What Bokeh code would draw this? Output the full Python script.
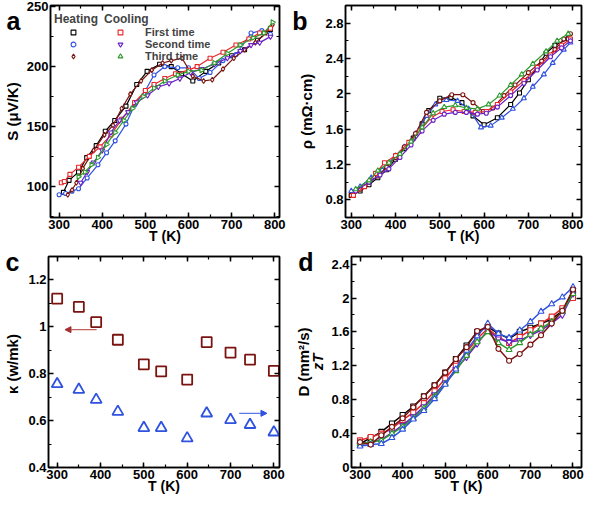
from bokeh.plotting import figure
from bokeh.layouts import column, row
from bokeh.models import (LinearAxis, Range1d, Legend, LegendItem, Arrow,
                          NormalHead, SingleIntervalTicker, FixedTicker)
from bokeh.embed import file_html
from bokeh.resources import INLINE

FONT = "Liberation Sans"
BLACK = "#000000"
BLUE = "#2f52e0"
DRED = "#7a1410"
RED = "#e8262a"
PURPLE = "#6a22c8"
GREEN = "#2c9a2c"

# ---------------- panel a : Seebeck coefficient ----------------
a_h1_T = [310, 323, 345, 364, 386, 407, 429, 455, 480, 504, 533, 560, 584, 610, 640, 670, 700, 730, 760, 790]
a_h1_S = [95, 105, 112, 124, 134, 146, 155, 167, 185, 196, 202, 200, 194, 188, 196, 203, 209, 214, 222, 231]
a_h2_T = [300, 315, 330, 345, 365, 390, 410, 430, 455, 475, 500, 520, 545, 575, 600, 625, 650, 680, 710, 745, 770, 790]
a_h2_S = [93, 94, 96, 98, 107, 118, 128, 138, 152, 168, 180, 193, 200, 199, 199, 190, 195, 205, 210, 228, 230, 227]
a_h3_T = [320, 330, 340, 355, 380, 405, 425, 445, 465, 490, 515, 540, 560, 585, 610, 635, 655, 680, 705, 730, 755, 780, 795]
a_h3_S = [93, 97, 103, 115, 130, 143, 151, 165, 177, 188, 197, 203, 205, 207, 192, 188, 189, 198, 207, 214, 220, 228, 235]
a_c1_T = [305, 312, 325, 345, 370, 395, 420, 445, 475, 500, 520, 545, 570, 600, 620, 650, 680, 710, 740, 765, 790]
a_c1_S = [103, 104, 110, 116, 125, 133, 143, 156, 170, 180, 185, 190, 194, 197, 200, 207, 212, 218, 223, 228, 232]
a_c2_T = [350, 365, 380, 400, 420, 440, 460, 480, 505, 530, 555, 580, 605, 630, 660, 690, 720, 745, 765, 790]
a_c2_S = [103, 112, 120, 130, 145, 155, 162, 170, 176, 183, 186, 190, 195, 198, 202, 207, 213, 218, 220, 225]
a_c3_T = [345, 360, 375, 390, 410, 430, 450, 470, 495, 520, 545, 575, 600, 630, 660, 690, 720, 750, 775, 795]
a_c3_S = [108, 112, 118, 124, 135, 145, 155, 165, 175, 182, 188, 193, 196, 197, 203, 211, 218, 224, 228, 237]

# ---------------- panel b : resistivity ----------------
b_h1_T = [300, 320, 340, 360, 380, 400, 420, 440, 460, 475, 500, 525, 550, 575, 600, 630, 660, 680, 700, 720, 740, 760, 790]
b_h1_R = [0.85, 0.90, 0.97, 1.05, 1.14, 1.26, 1.38, 1.50, 1.66, 1.81, 1.95, 1.96, 1.90, 1.75, 1.65, 1.73, 1.88, 2.01, 2.16, 2.30, 2.46, 2.55, 2.62]
b_h2_T = [300, 320, 345, 370, 400, 420, 445, 470, 490, 515, 540, 565, 593, 615, 640, 665, 690, 710, 735, 755, 780, 795]
b_h2_R = [0.90, 0.95, 1.05, 1.14, 1.30, 1.40, 1.55, 1.75, 1.88, 1.93, 1.92, 1.83, 1.62, 1.64, 1.73, 1.83, 1.95, 2.08, 2.22, 2.35, 2.50, 2.58]
b_h3_T = [300, 320, 340, 360, 380, 400, 420, 445, 470, 500, 527, 552, 575, 598, 620, 645, 670, 700, 730, 760, 780, 795]
b_h3_R = [0.85, 0.92, 1.00, 1.07, 1.17, 1.28, 1.40, 1.55, 1.79, 1.92, 1.99, 1.99, 1.90, 1.80, 1.84, 1.98, 2.10, 2.24, 2.37, 2.50, 2.62, 2.68]
b_c1_T = [305, 330, 355, 375, 400, 430, 455, 480, 505, 530, 555, 580, 605, 630, 660, 690, 720, 750, 775, 795]
b_c1_R = [0.85, 0.95, 1.10, 1.22, 1.30, 1.45, 1.58, 1.73, 1.80, 1.82, 1.80, 1.79, 1.80, 1.88, 2.02, 2.15, 2.30, 2.44, 2.55, 2.62]
b_c2_T = [310, 340, 365, 385, 410, 435, 460, 485, 510, 535, 560, 585, 605, 630, 660, 690, 720, 750, 775, 795]
b_c2_R = [0.90, 1.00, 1.08, 1.15, 1.28, 1.42, 1.58, 1.70, 1.77, 1.79, 1.79, 1.77, 1.78, 1.85, 1.98, 2.12, 2.27, 2.42, 2.52, 2.60]
b_c3_T = [310, 340, 360, 385, 410, 435, 460, 485, 510, 535, 560, 585, 610, 635, 660, 685, 710, 740, 765, 790]
b_c3_R = [0.92, 1.02, 1.13, 1.22, 1.32, 1.46, 1.62, 1.78, 1.85, 1.87, 1.84, 1.83, 1.88, 1.98, 2.10, 2.22, 2.34, 2.48, 2.60, 2.68]

# ---------------- panel c : thermal conductivity / zT ----------------
c_T = [300, 350, 390, 440, 500, 540, 600, 645, 700, 745, 800]
c_kappa = [1.12, 1.085, 1.02, 0.945, 0.84, 0.81, 0.775, 0.935, 0.89, 0.86, 0.812]
c_zT = [0.756, 0.732, 0.689, 0.638, 0.569, 0.569, 0.525, 0.631, 0.603, 0.582, 0.550]

# ---------------- panel d : diffusivity ----------------
d_T = [300, 325, 350, 375, 400, 425, 450, 475, 500, 525, 550, 575, 600, 625, 650, 675, 700, 725, 750, 775, 800]
d_h1 = [0.28, 0.35, 0.42, 0.52, 0.62, 0.72, 0.84, 0.97, 1.12, 1.28, 1.44, 1.60, 1.66, 1.58, 1.52, 1.60, 1.65, 1.70, 1.75, 1.85, 2.08]
d_c1 = [0.32, 0.36, 0.40, 0.46, 0.56, 0.65, 0.76, 0.90, 1.05, 1.20, 1.36, 1.52, 1.64, 1.54, 1.47, 1.54, 1.62, 1.70, 1.78, 1.88, 2.00]
d_h3 = [0.30, 0.27, 0.38, 0.48, 0.58, 0.71, 0.84, 0.97, 1.12, 1.28, 1.42, 1.61, 1.66, 1.40, 1.26, 1.34, 1.45, 1.56, 1.70, 1.85, 2.10]
d_c2 = [0.27, 0.29, 0.33, 0.41, 0.50, 0.60, 0.72, 0.86, 1.00, 1.16, 1.30, 1.46, 1.62, 1.52, 1.48, 1.50, 1.56, 1.62, 1.70, 1.80, 2.05]
d_c3 = [0.28, 0.30, 0.32, 0.40, 0.48, 0.58, 0.70, 0.84, 0.99, 1.14, 1.32, 1.48, 1.60, 1.47, 1.39, 1.47, 1.57, 1.64, 1.72, 1.84, 2.05]
d_h2 = [0.25, 0.27, 0.28, 0.35, 0.45, 0.57, 0.67, 0.81, 0.98, 1.16, 1.38, 1.55, 1.70, 1.58, 1.53, 1.62, 1.72, 1.84, 1.93, 2.01, 2.13]

LEG_LABELS = ["First time", "Second time", "Third time"]


def style(ax):
    ax.axis_line_width = 1.5
    ax.major_tick_in = 5
    ax.major_tick_out = 0
    ax.minor_tick_in = 3
    ax.minor_tick_out = 0
    ax.major_tick_line_width = 1.5
    ax.minor_tick_line_width = 1.2
    ax.major_label_text_font = FONT
    ax.major_label_text_font_style = "bold"
    ax.major_label_text_font_size = "13px"
    ax.major_label_text_color = BLACK
    ax.major_label_standoff = 2
    ax.axis_label_standoff = 0
    ax.axis_label_text_font = FONT
    ax.axis_label_text_font_style = "bold"
    ax.axis_label_text_font_size = "15px"
    ax.axis_label_text_color = BLACK


def make_fig(w, h, xr, yr, yint, ylabel, borders, letter, letter_standoff, ylabel_standoff,
             inner_label=None, inner_standoff=0):
    l, r, t, b = borders
    p = figure(width=w, height=h, x_range=Range1d(*xr), y_range=Range1d(*yr),
               output_backend="svg", toolbar_location=None,
               min_border_left=l, min_border_right=r, min_border_top=t, min_border_bottom=b)
    p.xgrid.visible = False
    p.ygrid.visible = False
    p.outline_line_color = BLACK
    p.outline_line_width = 1.5
    xt = SingleIntervalTicker(interval=100, num_minor_ticks=2)
    yt = SingleIntervalTicker(interval=yint, num_minor_ticks=2)
    xax, yax = p.xaxis[0], p.yaxis[0]
    xax.ticker = xt
    yax.ticker = yt
    style(xax)
    style(yax)
    xax.axis_label = "T (K)"
    xax.axis_label_text_font_size = "14px"
    xax.axis_label_standoff = -4
    if inner_label:
        yax.axis_label = inner_label
        yax.axis_label_text_font_style = "bold italic"
        yax.axis_label_standoff = inner_standoff
    top = LinearAxis(ticker=xt)
    right = LinearAxis(ticker=yt)
    for ax in [top, right]:
        style(ax)
        ax.major_label_text_color = None
        ax.major_label_text_font_size = "0px"
        ax.major_label_standoff = 0
    p.add_layout(top, "above")
    p.add_layout(right, "right")
    # outer left axis: carries the panel letter and the y-axis title
    p.extra_y_ranges = {"letter": Range1d(0, 100)}
    outer = LinearAxis(y_range_name="letter", ticker=FixedTicker(ticks=[99], minor_ticks=[]),
                       major_label_overrides={99: letter}, axis_label=ylabel)
    style(outer)
    outer.axis_line_color = None
    outer.major_tick_line_color = None
    outer.minor_tick_line_color = None
    outer.major_label_text_font_size = "25px"
    outer.major_label_standoff = letter_standoff
    outer.axis_label_standoff = ylabel_standoff
    p.add_layout(outer, "left")
    return p


def series(p, xs, ys, color, marker, size=4, lw=1.2):
    p.line(xs, ys, line_color=color, line_width=lw)
    return p.scatter(xs, ys, marker=marker, size=size, line_color=color,
                     fill_color="white", line_width=1.1)


H1, H2 = 246, 250

# ---------- figure a ----------
pa = make_fig(292, H1, (280, 811), (74, 251), 50, "S (μV/K)", (41, 13, 5, 20), "a", 3, -17)
ra_h1 = series(pa, a_h1_T, a_h1_S, BLACK, "square")
ra_h2 = series(pa, a_h2_T, a_h2_S, BLUE, "circle")
ra_h3 = series(pa, a_h3_T, a_h3_S, DRED, "diamond", size=5)
ra_c1 = series(pa, a_c1_T, a_c1_S, RED, "square")
ra_c2 = series(pa, a_c2_T, a_c2_S, PURPLE, "inverted_triangle", size=5)
ra_c3 = series(pa, a_c3_T, a_c3_S, GREEN, "triangle", size=5)
ra_c3.glyph.angle = -1.5708

leg_h = Legend(items=[LegendItem(label=" ", renderers=[r]) for r in [ra_h1, ra_h2, ra_h3]],
               title="Heating", location=(4, 155))
leg_c = Legend(items=[LegendItem(label=lab, renderers=[r]) for lab, r in zip(LEG_LABELS, [ra_c1, ra_c2, ra_c3])],
               title="Cooling", location=(54, 155))
for lg, gw in [(leg_h, 38), (leg_c, 32)]:
    lg.margin = 0
    lg.padding = 0
    lg.spacing = 0
    lg.glyph_width = gw
    lg.glyph_height = 12
    lg.label_height = 12
    lg.label_standoff = 9
    lg.title_standoff = 0
    lg.title_text_font = FONT
    lg.title_text_font_style = "bold"
    lg.title_text_font_size = "12px"
    lg.label_text_font = FONT
    lg.label_text_font_style = "bold"
    lg.label_text_font_size = "11px"
    lg.background_fill_alpha = 0
    lg.border_line_color = None
    pa.add_layout(lg)

# ---------- figure b ----------
pb = make_fig(292, H1, (287, 820), (0.6, 3.0), 0.4, "ρ (mΩ·cm)", (53, 3, 5, 20), "b", 15, -26)
series(pb, b_h1_T, b_h1_R, BLACK, "square")
series(pb, b_h2_T, b_h2_R, BLUE, "triangle", size=5)
series(pb, b_h3_T, b_h3_R, DRED, "circle")
series(pb, b_c1_T, b_c1_R, RED, "square")
series(pb, b_c2_T, b_c2_R, PURPLE, "circle")
series(pb, b_c3_T, b_c3_R, GREEN, "triangle", size=5)

# ---------- figure c ----------
pc = make_fig(292, H2, (280, 813), (0.4, 1.3), 0.2, "κ  (w/mk)", (40, 13, 10, 20), "c", 6, -18)
pc.scatter(c_T, c_kappa, marker="square", size=10, line_color=DRED, fill_color=None, line_width=1.8)
pc.scatter(c_T, c_zT, marker="triangle", size=11, line_color=BLUE, fill_color=None, line_width=1.8)
pc.add_layout(Arrow(end=NormalHead(size=6, line_color="#a33030", fill_color="#a33030"),
                    x_start=391, y_start=0.988, x_end=318, y_end=0.988,
                    line_color="#c06060", line_width=1.2))
pc.add_layout(Arrow(end=NormalHead(size=6, line_color=BLUE, fill_color=BLUE),
                    x_start=720, y_start=0.631, x_end=784, y_end=0.631,
                    line_color="#5a78e8", line_width=1.2))

# ---------- figure d ----------
pd = make_fig(292, H2, (280, 820), (0.0, 2.49), 0.4, "D (mm²/s)", (53, 3, 10, 20), "d", -7, -17,
              inner_label="zT", inner_standoff=2)
series(pd, d_T, d_h1, BLACK, "square", size=5, lw=1.5)
series(pd, d_T, d_c1, RED, "square", size=5, lw=1.5)
series(pd, d_T, d_c2, PURPLE, "inverted_triangle", size=6, lw=1.5)
series(pd, d_T, d_c3, GREEN, "triangle", size=6, lw=1.5)
series(pd, d_T, d_h2, BLUE, "triangle", size=6, lw=1.5)
series(pd, d_T, d_h3, DRED, "circle", size=5, lw=1.5)

layout = column(row(pa, pb), row(pc, pd))
open("out.html", "w").write(file_html(layout, INLINE))
